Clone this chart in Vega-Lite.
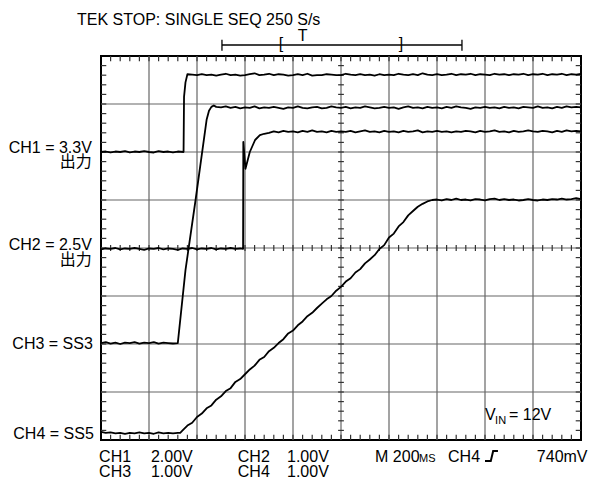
{
"$schema": "https://vega.github.io/schema/vega-lite/v6.json",
"width": 480, "height": 384,
"autosize": {"type": "none"},
"padding": {"left": 101, "top": 56, "right": 15, "bottom": 43},
"background": "white",
"config": {"view": {"stroke": "black", "strokeWidth": 2}, "text": {"font": "Liberation Sans, Noto Sans CJK JP", "fontSize": 16, "color": "black"}},
"datasets": {
"gx": [{"x":1},{"x":2},{"x":3},{"x":4},{"x":5},{"x":6},{"x":7},{"x":8},{"x":9}],
"gy": [{"y":1},{"y":2},{"y":3},{"y":4},{"y":5},{"y":6},{"y":7}],
"tx": [{"x":0.2},{"x":0.4},{"x":0.6},{"x":0.8},{"x":1},{"x":1.2},{"x":1.4},{"x":1.6},{"x":1.8},{"x":2},{"x":2.2},{"x":2.4},{"x":2.6},{"x":2.8},{"x":3},{"x":3.2},{"x":3.4},{"x":3.6},{"x":3.8},{"x":4},{"x":4.2},{"x":4.4},{"x":4.6},{"x":4.8},{"x":5},{"x":5.2},{"x":5.4},{"x":5.6},{"x":5.8},{"x":6},{"x":6.2},{"x":6.4},{"x":6.6},{"x":6.8},{"x":7},{"x":7.2},{"x":7.4},{"x":7.6},{"x":7.8},{"x":8},{"x":8.2},{"x":8.4},{"x":8.6},{"x":8.8},{"x":9},{"x":9.2},{"x":9.4},{"x":9.6},{"x":9.8}],
"ty": [{"y":0.2},{"y":0.4},{"y":0.6},{"y":0.8},{"y":1},{"y":1.2},{"y":1.4},{"y":1.6},{"y":1.8},{"y":2},{"y":2.2},{"y":2.4},{"y":2.6},{"y":2.8},{"y":3},{"y":3.2},{"y":3.4},{"y":3.6},{"y":3.8},{"y":4},{"y":4.2},{"y":4.4},{"y":4.6},{"y":4.8},{"y":5},{"y":5.2},{"y":5.4},{"y":5.6},{"y":5.8},{"y":6},{"y":6.2},{"y":6.4},{"y":6.6},{"y":6.8},{"y":7},{"y":7.2},{"y":7.4},{"y":7.6},{"y":7.8}],
"ch1": [{"x":0,"y":6.0},{"x":0.1,"y":6.01},{"x":0.2,"y":5.99},{"x":0.3,"y":6.01},{"x":0.4,"y":6.0},{"x":0.5,"y":6.02},{"x":0.6,"y":5.99},{"x":0.7,"y":6.01},{"x":0.8,"y":6.0},{"x":0.9,"y":6.02},{"x":1.0,"y":6.0},{"x":1.1,"y":5.99},{"x":1.2,"y":6.02},{"x":1.3,"y":6.0},{"x":1.4,"y":6.01},{"x":1.5,"y":5.99},{"x":1.6,"y":6.01},{"x":1.72,"y":6.0},{"x":1.73,"y":7.15},{"x":1.76,"y":7.45},{"x":1.8,"y":7.62},{"x":1.9,"y":7.61},{"x":2.0,"y":7.6},{"x":2.1,"y":7.62},{"x":2.2,"y":7.6},{"x":2.3,"y":7.61},{"x":2.4,"y":7.59},{"x":2.5,"y":7.61},{"x":2.6,"y":7.63},{"x":2.7,"y":7.6},{"x":2.8,"y":7.61},{"x":2.9,"y":7.59},{"x":3.0,"y":7.6},{"x":3.1,"y":7.62},{"x":3.2,"y":7.64},{"x":3.3,"y":7.6},{"x":3.4,"y":7.61},{"x":3.5,"y":7.63},{"x":3.6,"y":7.6},{"x":3.7,"y":7.62},{"x":3.8,"y":7.61},{"x":3.9,"y":7.59},{"x":4.0,"y":7.6},{"x":4.1,"y":7.62},{"x":4.2,"y":7.6},{"x":4.3,"y":7.63},{"x":4.4,"y":7.59},{"x":4.5,"y":7.6},{"x":4.6,"y":7.6},{"x":4.7,"y":7.62},{"x":4.8,"y":7.61},{"x":4.9,"y":7.6},{"x":5.0,"y":7.6},{"x":5.1,"y":7.63},{"x":5.2,"y":7.61},{"x":5.3,"y":7.6},{"x":5.4,"y":7.62},{"x":5.5,"y":7.6},{"x":5.6,"y":7.61},{"x":5.7,"y":7.59},{"x":5.8,"y":7.62},{"x":5.9,"y":7.6},{"x":6.0,"y":7.61},{"x":6.1,"y":7.6},{"x":6.2,"y":7.63},{"x":6.3,"y":7.61},{"x":6.4,"y":7.6},{"x":6.5,"y":7.62},{"x":6.6,"y":7.6},{"x":6.7,"y":7.64},{"x":6.8,"y":7.61},{"x":6.9,"y":7.6},{"x":7.0,"y":7.62},{"x":7.1,"y":7.6},{"x":7.2,"y":7.61},{"x":7.3,"y":7.63},{"x":7.4,"y":7.6},{"x":7.5,"y":7.62},{"x":7.6,"y":7.61},{"x":7.7,"y":7.63},{"x":7.8,"y":7.6},{"x":7.9,"y":7.62},{"x":8.0,"y":7.61},{"x":8.1,"y":7.6},{"x":8.2,"y":7.63},{"x":8.3,"y":7.61},{"x":8.4,"y":7.62},{"x":8.5,"y":7.6},{"x":8.6,"y":7.62},{"x":8.7,"y":7.61},{"x":8.8,"y":7.63},{"x":8.9,"y":7.6},{"x":9.0,"y":7.62},{"x":9.1,"y":7.61},{"x":9.2,"y":7.63},{"x":9.3,"y":7.6},{"x":9.4,"y":7.62},{"x":9.5,"y":7.61},{"x":9.6,"y":7.63},{"x":9.7,"y":7.6},{"x":9.8,"y":7.62},{"x":9.9,"y":7.61},{"x":10.0,"y":7.63}],
"ch2": [{"x":0,"y":3.97},{"x":0.1,"y":3.99},{"x":0.2,"y":3.98},{"x":0.3,"y":4.0},{"x":0.4,"y":3.97},{"x":0.5,"y":3.99},{"x":0.6,"y":3.98},{"x":0.7,"y":4.0},{"x":0.8,"y":3.98},{"x":0.9,"y":3.96},{"x":1.0,"y":3.99},{"x":1.1,"y":3.98},{"x":1.2,"y":4.0},{"x":1.3,"y":3.97},{"x":1.4,"y":3.99},{"x":1.5,"y":3.98},{"x":1.6,"y":3.96},{"x":1.7,"y":3.99},{"x":1.8,"y":3.98},{"x":1.9,"y":4.0},{"x":2.0,"y":3.97},{"x":2.1,"y":3.99},{"x":2.2,"y":3.98},{"x":2.3,"y":4.0},{"x":2.4,"y":3.97},{"x":2.5,"y":3.99},{"x":2.6,"y":3.98},{"x":2.7,"y":4.0},{"x":2.8,"y":3.98},{"x":2.9,"y":3.99},{"x":2.96,"y":3.98},{"x":2.965,"y":6.21},{"x":3.01,"y":5.65},{"x":3.1,"y":6.0},{"x":3.21,"y":6.25},{"x":3.31,"y":6.35},{"x":3.4,"y":6.38},{"x":3.5,"y":6.4},{"x":3.6,"y":6.43},{"x":3.7,"y":6.41},{"x":3.8,"y":6.44},{"x":3.9,"y":6.42},{"x":4.0,"y":6.43},{"x":4.1,"y":6.41},{"x":4.2,"y":6.44},{"x":4.3,"y":6.42},{"x":4.4,"y":6.45},{"x":4.5,"y":6.42},{"x":4.6,"y":6.43},{"x":4.7,"y":6.41},{"x":4.8,"y":6.44},{"x":4.9,"y":6.42},{"x":5.0,"y":6.43},{"x":5.1,"y":6.42},{"x":5.2,"y":6.44},{"x":5.3,"y":6.41},{"x":5.4,"y":6.43},{"x":5.5,"y":6.45},{"x":5.6,"y":6.42},{"x":5.7,"y":6.43},{"x":5.8,"y":6.41},{"x":5.9,"y":6.44},{"x":6.0,"y":6.42},{"x":6.1,"y":6.43},{"x":6.2,"y":6.41},{"x":6.3,"y":6.44},{"x":6.4,"y":6.42},{"x":6.5,"y":6.43},{"x":6.6,"y":6.45},{"x":6.7,"y":6.41},{"x":6.8,"y":6.43},{"x":6.9,"y":6.42},{"x":7.0,"y":6.44},{"x":7.1,"y":6.42},{"x":7.2,"y":6.43},{"x":7.3,"y":6.41},{"x":7.4,"y":6.43},{"x":7.5,"y":6.42},{"x":7.6,"y":6.44},{"x":7.7,"y":6.43},{"x":7.8,"y":6.41},{"x":7.9,"y":6.44},{"x":8.0,"y":6.42},{"x":8.1,"y":6.43},{"x":8.2,"y":6.45},{"x":8.3,"y":6.42},{"x":8.4,"y":6.43},{"x":8.5,"y":6.41},{"x":8.6,"y":6.44},{"x":8.7,"y":6.42},{"x":8.8,"y":6.43},{"x":8.9,"y":6.45},{"x":9.0,"y":6.43},{"x":9.1,"y":6.42},{"x":9.2,"y":6.44},{"x":9.3,"y":6.43},{"x":9.4,"y":6.41},{"x":9.5,"y":6.44},{"x":9.6,"y":6.42},{"x":9.7,"y":6.45},{"x":9.8,"y":6.43},{"x":9.9,"y":6.44},{"x":10.0,"y":6.43}],
"ch3": [{"x":0,"y":2.02},{"x":0.1,"y":2.04},{"x":0.2,"y":2.01},{"x":0.3,"y":2.03},{"x":0.4,"y":2.0},{"x":0.5,"y":2.03},{"x":0.6,"y":2.02},{"x":0.7,"y":2.04},{"x":0.8,"y":2.01},{"x":0.9,"y":2.03},{"x":1.0,"y":2.02},{"x":1.1,"y":2.04},{"x":1.2,"y":2.01},{"x":1.3,"y":2.03},{"x":1.4,"y":2.02},{"x":1.5,"y":2.01},{"x":1.6,"y":2.02},{"x":1.76,"y":3.54},{"x":1.97,"y":5.0},{"x":2.2,"y":6.67},{"x":2.25,"y":6.86},{"x":2.3,"y":6.94},{"x":2.35,"y":6.97},{"x":2.4,"y":6.94},{"x":2.5,"y":6.93},{"x":2.6,"y":6.95},{"x":2.7,"y":6.92},{"x":2.8,"y":6.94},{"x":2.9,"y":6.91},{"x":3.0,"y":6.93},{"x":3.1,"y":6.92},{"x":3.2,"y":6.95},{"x":3.3,"y":6.91},{"x":3.4,"y":6.93},{"x":3.5,"y":6.92},{"x":3.6,"y":6.94},{"x":3.7,"y":6.92},{"x":3.8,"y":6.9},{"x":3.9,"y":6.93},{"x":4.0,"y":6.92},{"x":4.1,"y":6.95},{"x":4.2,"y":6.92},{"x":4.3,"y":6.91},{"x":4.4,"y":6.93},{"x":4.5,"y":6.94},{"x":4.6,"y":6.91},{"x":4.7,"y":6.92},{"x":4.8,"y":6.95},{"x":4.9,"y":6.93},{"x":5.0,"y":6.92},{"x":5.1,"y":6.94},{"x":5.2,"y":6.91},{"x":5.3,"y":6.93},{"x":5.4,"y":6.92},{"x":5.5,"y":6.95},{"x":5.6,"y":6.93},{"x":5.7,"y":6.91},{"x":5.8,"y":6.92},{"x":5.9,"y":6.94},{"x":6.0,"y":6.92},{"x":6.1,"y":6.93},{"x":6.2,"y":6.9},{"x":6.3,"y":6.93},{"x":6.4,"y":6.95},{"x":6.5,"y":6.92},{"x":6.6,"y":6.93},{"x":6.7,"y":6.91},{"x":6.8,"y":6.94},{"x":6.9,"y":6.92},{"x":7.0,"y":6.93},{"x":7.1,"y":6.91},{"x":7.2,"y":6.94},{"x":7.3,"y":6.92},{"x":7.4,"y":6.95},{"x":7.5,"y":6.93},{"x":7.6,"y":6.92},{"x":7.7,"y":6.9},{"x":7.8,"y":6.93},{"x":7.9,"y":6.92},{"x":8.0,"y":6.94},{"x":8.1,"y":6.92},{"x":8.2,"y":6.93},{"x":8.3,"y":6.91},{"x":8.4,"y":6.94},{"x":8.5,"y":6.92},{"x":8.6,"y":6.93},{"x":8.7,"y":6.91},{"x":8.8,"y":6.94},{"x":8.9,"y":6.93},{"x":9.0,"y":6.92},{"x":9.1,"y":6.95},{"x":9.2,"y":6.92},{"x":9.3,"y":6.93},{"x":9.4,"y":6.91},{"x":9.5,"y":6.94},{"x":9.6,"y":6.92},{"x":9.7,"y":6.95},{"x":9.8,"y":6.93},{"x":9.9,"y":6.94},{"x":10.0,"y":6.93}],
"ch4": [{"x":0,"y":0.17},{"x":0.1,"y":0.15},{"x":0.2,"y":0.16},{"x":0.3,"y":0.14},{"x":0.4,"y":0.15},{"x":0.5,"y":0.13},{"x":0.6,"y":0.15},{"x":0.7,"y":0.14},{"x":0.8,"y":0.16},{"x":0.9,"y":0.14},{"x":1.0,"y":0.15},{"x":1.1,"y":0.13},{"x":1.2,"y":0.16},{"x":1.3,"y":0.14},{"x":1.4,"y":0.15},{"x":1.5,"y":0.14},{"x":1.6,"y":0.15},{"x":1.65,"y":0.15},{"x":1.7,"y":0.2},{"x":1.8,"y":0.3},{"x":1.9,"y":0.36},{"x":2.0,"y":0.48},{"x":2.1,"y":0.55},{"x":2.2,"y":0.66},{"x":2.3,"y":0.72},{"x":2.4,"y":0.84},{"x":2.5,"y":0.91},{"x":2.6,"y":1.02},{"x":2.7,"y":1.08},{"x":2.8,"y":1.21},{"x":2.9,"y":1.27},{"x":3.0,"y":1.37},{"x":3.1,"y":1.47},{"x":3.2,"y":1.55},{"x":3.3,"y":1.67},{"x":3.4,"y":1.73},{"x":3.5,"y":1.85},{"x":3.6,"y":1.92},{"x":3.7,"y":2.02},{"x":3.8,"y":2.1},{"x":3.9,"y":2.22},{"x":4.0,"y":2.28},{"x":4.1,"y":2.39},{"x":4.2,"y":2.47},{"x":4.3,"y":2.58},{"x":4.4,"y":2.65},{"x":4.5,"y":2.75},{"x":4.6,"y":2.84},{"x":4.7,"y":2.93},{"x":4.8,"y":3.0},{"x":4.9,"y":3.11},{"x":5.0,"y":3.19},{"x":5.1,"y":3.3},{"x":5.2,"y":3.37},{"x":5.3,"y":3.49},{"x":5.4,"y":3.56},{"x":5.5,"y":3.68},{"x":5.6,"y":3.76},{"x":5.7,"y":3.85},{"x":5.8,"y":3.98},{"x":5.9,"y":4.06},{"x":6.0,"y":4.22},{"x":6.1,"y":4.3},{"x":6.2,"y":4.45},{"x":6.3,"y":4.54},{"x":6.4,"y":4.68},{"x":6.5,"y":4.77},{"x":6.6,"y":4.86},{"x":6.7,"y":4.92},{"x":6.8,"y":4.97},{"x":6.9,"y":5.0},{"x":7.0,"y":5.01},{"x":7.1,"y":4.99},{"x":7.2,"y":5.02},{"x":7.3,"y":5.0},{"x":7.4,"y":5.03},{"x":7.5,"y":5.0},{"x":7.6,"y":5.01},{"x":7.7,"y":4.99},{"x":7.8,"y":5.02},{"x":7.9,"y":5.01},{"x":8.0,"y":4.99},{"x":8.1,"y":5.02},{"x":8.2,"y":5.03},{"x":8.3,"y":5.0},{"x":8.4,"y":5.02},{"x":8.5,"y":5.0},{"x":8.6,"y":5.01},{"x":8.7,"y":4.99},{"x":8.8,"y":5.0},{"x":8.9,"y":5.02},{"x":9.0,"y":5.0},{"x":9.1,"y":4.99},{"x":9.2,"y":5.01},{"x":9.3,"y":5.0},{"x":9.4,"y":5.02},{"x":9.5,"y":5.01},{"x":9.6,"y":5.03},{"x":9.7,"y":5.01},{"x":9.8,"y":5.02},{"x":9.9,"y":5.04},{"x":10.0,"y":5.02}],
"trig": [{"x":8.0,"y":-0.44},{"x":8.12,"y":-0.44},{"x":8.17,"y":-0.23},{"x":8.27,"y":-0.23}],
"bar": [{"x":2.52,"x2":7.52,"y":8.229,"y2":8.229},{"x":2.52,"x2":2.52,"y":8.11,"y2":8.34},{"x":7.52,"x2":7.52,"y":8.11,"y2":8.34}],
"txtL": [{"x":-0.5,"y":8.646,"t":"TEK STOP: SINGLE SEQ 250 S/s"},{"x":-0.04,"y":-0.458,"t":"CH1"},{"x":1.04,"y":-0.458,"t":"2.00V"},{"x":2.85,"y":-0.458,"t":"CH2"},{"x":3.875,"y":-0.458,"t":"1.00V"},{"x":5.71,"y":-0.458,"t":"M 200"},{"x":7.23,"y":-0.458,"t":"CH4"},{"x":9.08,"y":-0.458,"t":"740mV"},{"x":-0.04,"y":-0.771,"t":"CH3"},{"x":1.04,"y":-0.771,"t":"1.00V"},{"x":2.85,"y":-0.771,"t":"CH4"},{"x":3.875,"y":-0.771,"t":"1.00V"},{"x":8.0,"y":0.417,"t":"V"},{"x":8.5,"y":0.417,"t":"= 12V"}],
"txtC": [{"x":4.2,"y":8.31,"t":"T"},{"x":3.75,"y":8.14,"t":"["},{"x":6.25,"y":8.14,"t":"]"}],
"txtR": [{"x":-0.19,"y":5.98,"t":"CH1 = 3.3V"},{"x":-0.19,"y":5.69,"t":"出力"},{"x":-0.19,"y":3.96,"t":"CH2 = 2.5V"},{"x":-0.19,"y":3.65,"t":"出力"},{"x":-0.17,"y":1.9,"t":"CH3 = SS3"},{"x":-0.15,"y":0.02,"t":"CH4 = SS5"}],
"txtS": [{"x":6.625,"y":-0.458,"t":"MS"},{"x":8.21,"y":0.333,"t":"IN"}]
},
"layer": [
{"data": {"name": "gx"}, "mark": {"type": "rule", "color": "#666666", "strokeWidth": 1.2},
 "encoding": {"x": {"field": "x", "type": "quantitative", "scale": {"domain": [0, 10], "nice": false, "zero": false}, "axis": null},
  "y": {"datum": 0, "type": "quantitative", "scale": {"domain": [0, 8], "nice": false, "zero": false}, "axis": null}, "y2": {"datum": 8}}},
{"data": {"name": "gy"}, "mark": {"type": "rule", "color": "#666666", "strokeWidth": 1.2},
 "encoding": {"y": {"field": "y", "type": "quantitative", "scale": {"domain": [0, 8], "nice": false, "zero": false}, "axis": null},
  "x": {"datum": 0, "type": "quantitative", "scale": {"domain": [0, 10], "nice": false, "zero": false}, "axis": null}, "x2": {"datum": 10}}},
{"data": {"name": "tx"}, "mark": {"type": "rule", "color": "#333333", "strokeWidth": 1.2},
 "encoding": {"x": {"field": "x", "type": "quantitative", "scale": {"domain": [0, 10], "nice": false, "zero": false}, "axis": null},
  "y": {"datum": 8, "type": "quantitative", "scale": {"domain": [0, 8], "nice": false, "zero": false}, "axis": null}, "y2": {"datum": 7.89}}},
{"data": {"name": "tx"}, "mark": {"type": "rule", "color": "#333333", "strokeWidth": 1.2},
 "encoding": {"x": {"field": "x", "type": "quantitative", "scale": {"domain": [0, 10], "nice": false, "zero": false}, "axis": null},
  "y": {"datum": 0, "type": "quantitative", "scale": {"domain": [0, 8], "nice": false, "zero": false}, "axis": null}, "y2": {"datum": 0.11}}},
{"data": {"name": "tx"}, "mark": {"type": "rule", "color": "#333333", "strokeWidth": 1.2},
 "encoding": {"x": {"field": "x", "type": "quantitative", "scale": {"domain": [0, 10], "nice": false, "zero": false}, "axis": null},
  "y": {"datum": 3.94, "type": "quantitative", "scale": {"domain": [0, 8], "nice": false, "zero": false}, "axis": null}, "y2": {"datum": 4.06}}},
{"data": {"name": "ty"}, "mark": {"type": "rule", "color": "#333333", "strokeWidth": 1.2},
 "encoding": {"y": {"field": "y", "type": "quantitative", "scale": {"domain": [0, 8], "nice": false, "zero": false}, "axis": null},
  "x": {"datum": 0, "type": "quantitative", "scale": {"domain": [0, 10], "nice": false, "zero": false}, "axis": null}, "x2": {"datum": 0.11}}},
{"data": {"name": "ty"}, "mark": {"type": "rule", "color": "#333333", "strokeWidth": 1.2},
 "encoding": {"y": {"field": "y", "type": "quantitative", "scale": {"domain": [0, 8], "nice": false, "zero": false}, "axis": null},
  "x": {"datum": 10, "type": "quantitative", "scale": {"domain": [0, 10], "nice": false, "zero": false}, "axis": null}, "x2": {"datum": 9.89}}},
{"data": {"name": "ty"}, "mark": {"type": "rule", "color": "#333333", "strokeWidth": 1.2},
 "encoding": {"y": {"field": "y", "type": "quantitative", "scale": {"domain": [0, 8], "nice": false, "zero": false}, "axis": null},
  "x": {"datum": 4.94, "type": "quantitative", "scale": {"domain": [0, 10], "nice": false, "zero": false}, "axis": null}, "x2": {"datum": 5.06}}},
{"data": {"name": "ch1"}, "mark": {"type": "line", "color": "black", "strokeWidth": 1.8, "strokeJoin": "round"},
 "encoding": {"x": {"field": "x", "type": "quantitative", "scale": {"domain": [0, 10], "nice": false, "zero": false}, "axis": null},
  "y": {"field": "y", "type": "quantitative", "scale": {"domain": [0, 8], "nice": false, "zero": false}, "axis": null}}},
{"data": {"name": "ch2"}, "mark": {"type": "line", "color": "black", "strokeWidth": 1.8, "strokeJoin": "round"},
 "encoding": {"x": {"field": "x", "type": "quantitative", "scale": {"domain": [0, 10], "nice": false, "zero": false}, "axis": null},
  "y": {"field": "y", "type": "quantitative", "scale": {"domain": [0, 8], "nice": false, "zero": false}, "axis": null}}},
{"data": {"name": "ch3"}, "mark": {"type": "line", "color": "black", "strokeWidth": 1.8, "strokeJoin": "round"},
 "encoding": {"x": {"field": "x", "type": "quantitative", "scale": {"domain": [0, 10], "nice": false, "zero": false}, "axis": null},
  "y": {"field": "y", "type": "quantitative", "scale": {"domain": [0, 8], "nice": false, "zero": false}, "axis": null}}},
{"data": {"name": "ch4"}, "mark": {"type": "line", "color": "black", "strokeWidth": 1.8, "strokeJoin": "round"},
 "encoding": {"x": {"field": "x", "type": "quantitative", "scale": {"domain": [0, 10], "nice": false, "zero": false}, "axis": null},
  "y": {"field": "y", "type": "quantitative", "scale": {"domain": [0, 8], "nice": false, "zero": false}, "axis": null}}},
{"data": {"name": "trig"}, "mark": {"type": "line", "color": "black", "strokeWidth": 2},
 "encoding": {"x": {"field": "x", "type": "quantitative", "scale": {"domain": [0, 10], "nice": false, "zero": false}, "axis": null},
  "y": {"field": "y", "type": "quantitative", "scale": {"domain": [0, 8], "nice": false, "zero": false}, "axis": null}}},
{"data": {"name": "bar"}, "mark": {"type": "rule", "color": "black", "strokeWidth": 1.3},
 "encoding": {"x": {"field": "x", "type": "quantitative", "scale": {"domain": [0, 10], "nice": false, "zero": false}, "axis": null}, "x2": {"field": "x2"},
  "y": {"field": "y", "type": "quantitative", "scale": {"domain": [0, 8], "nice": false, "zero": false}, "axis": null}, "y2": {"field": "y2"}}},
{"data": {"name": "txtL"}, "mark": {"type": "text", "align": "left", "baseline": "alphabetic"},
 "encoding": {"x": {"field": "x", "type": "quantitative", "scale": {"domain": [0, 10], "nice": false, "zero": false}, "axis": null},
  "y": {"field": "y", "type": "quantitative", "scale": {"domain": [0, 8], "nice": false, "zero": false}, "axis": null}, "text": {"field": "t"}}},
{"data": {"name": "txtC"}, "mark": {"type": "text", "align": "center", "baseline": "alphabetic"},
 "encoding": {"x": {"field": "x", "type": "quantitative", "scale": {"domain": [0, 10], "nice": false, "zero": false}, "axis": null},
  "y": {"field": "y", "type": "quantitative", "scale": {"domain": [0, 8], "nice": false, "zero": false}, "axis": null}, "text": {"field": "t"}}},
{"data": {"name": "txtR"}, "mark": {"type": "text", "align": "right", "baseline": "alphabetic"},
 "encoding": {"x": {"field": "x", "type": "quantitative", "scale": {"domain": [0, 10], "nice": false, "zero": false}, "axis": null},
  "y": {"field": "y", "type": "quantitative", "scale": {"domain": [0, 8], "nice": false, "zero": false}, "axis": null}, "text": {"field": "t"}}},
{"data": {"name": "txtS"}, "mark": {"type": "text", "align": "left", "baseline": "alphabetic", "fontSize": 11},
 "encoding": {"x": {"field": "x", "type": "quantitative", "scale": {"domain": [0, 10], "nice": false, "zero": false}, "axis": null},
  "y": {"field": "y", "type": "quantitative", "scale": {"domain": [0, 8], "nice": false, "zero": false}, "axis": null}, "text": {"field": "t"}}}
]
}
